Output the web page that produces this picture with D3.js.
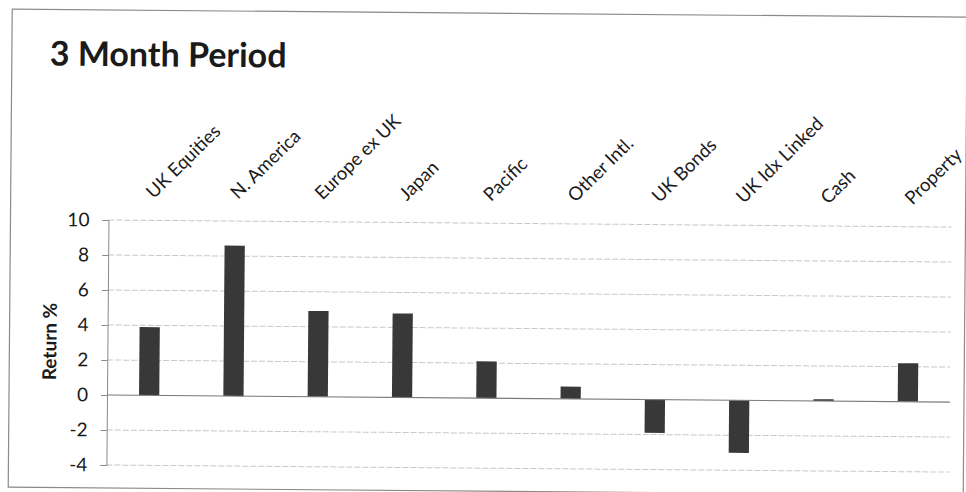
<!DOCTYPE html>
<html>
<head>
<meta charset="utf-8">
<script src="https://cdn.jsdelivr.net/npm/d3@7"></script>
<style>
  html, body { margin: 0; padding: 0; background: #fff; }
  svg { display: block; }
  text { font-family: Lato, "Open Sans", sans-serif; fill: #1a1a1a; }
</style>
</head>
<body>
<svg id="chart" width="966" height="492"></svg>
<script>
// Asset-class returns over the 3 month period (%)
const categories = ["UK Equities", "N. America", "Europe ex UK", "Japan", "Pacific",
                    "Other Intl.", "UK Bonds", "UK Idx Linked", "Cash", "Property"];
const returns = [3.9, 8.6, 4.9, 4.8, 2.1, 0.7, -1.9, -3.0, 0.1, 2.2];
const yTicks = [-4, -2, 0, 2, 4, 6, 8, 10];
const chartTitle = "3 Month Period";
const yAxisTitle = "Return %";

const svg = d3.select("#chart");
// the printed sheet sits a little askew
const root = svg.append("g").attr("transform", "rotate(0.48,107,395)");

const plot = { left: 107, right: 950, top: 220, bottom: 465 };

const x = d3.scaleBand()
  .domain(categories)
  .range([plot.left, plot.right])
  .paddingInner(0.76)
  .paddingOuter(0.38);

const y = d3.scaleLinear()
  .domain([-4, 10])
  .range([plot.bottom, plot.top]);

// outer frame
root.append("rect")
  .attr("x", 9).attr("y", 10)
  .attr("width", 955).attr("height", 478)
  .attr("fill", "none")
  .attr("stroke", "#8a8a8a")
  .attr("stroke-width", 1.2);

// title
root.append("text")
  .attr("x", 47).attr("y", 66)
  .attr("font-size", 34)
  .attr("font-weight", 700)
  .text(chartTitle);

// horizontal gridlines
root.append("g")
  .selectAll("line")
  .data(yTicks.filter(d => d !== 0))
  .join("line")
  .attr("x1", plot.left).attr("x2", plot.right)
  .attr("y1", d => y(d)).attr("y2", d => y(d))
  .attr("stroke", "#c8c8c8")
  .attr("stroke-width", 1)
  .attr("stroke-dasharray", "6,2");

// bars
root.append("g")
  .selectAll("rect")
  .data(returns)
  .join("rect")
  .attr("x", (d, i) => x(categories[i]))
  .attr("width", x.bandwidth())
  .attr("y", d => y(Math.max(0, d)))
  .attr("height", d => Math.abs(y(d) - y(0)))
  .attr("fill", "#383838");

// zero line
root.append("line")
  .attr("x1", plot.left).attr("x2", plot.right)
  .attr("y1", y(0)).attr("y2", y(0))
  .attr("stroke", "#7a7a7a")
  .attr("stroke-width", 1.2);

// y axis
const yAxis = d3.axisLeft(y)
  .tickValues(yTicks)
  .tickFormat(d => String(d))
  .tickSize(6)
  .tickPadding(13);
const ya = root.append("g")
  .attr("transform", `translate(${plot.left},0)`)
  .call(yAxis);
ya.select(".domain").attr("stroke", "#8a8a8a");
ya.selectAll(".tick line").attr("stroke", "#8a8a8a");
ya.selectAll(".tick text")
  .attr("font-family", "Lato, 'Open Sans', sans-serif")
  .attr("font-size", 19)
  .attr("fill", "#1a1a1a");

// y axis title
root.append("text")
  .attr("transform", "translate(56,342) rotate(-90)")
  .attr("text-anchor", "middle")
  .attr("font-size", 19)
  .attr("font-weight", 700)
  .text(yAxisTitle);

// category labels along the top, slanted
root.append("g")
  .selectAll("text")
  .data(categories)
  .join("text")
  .attr("transform", d => `translate(${x(d) + x.bandwidth() / 2 + 3},199) rotate(-45)`)
  .attr("font-size", 18.5)
  .text(d => d);
</script>
</body>
</html>
